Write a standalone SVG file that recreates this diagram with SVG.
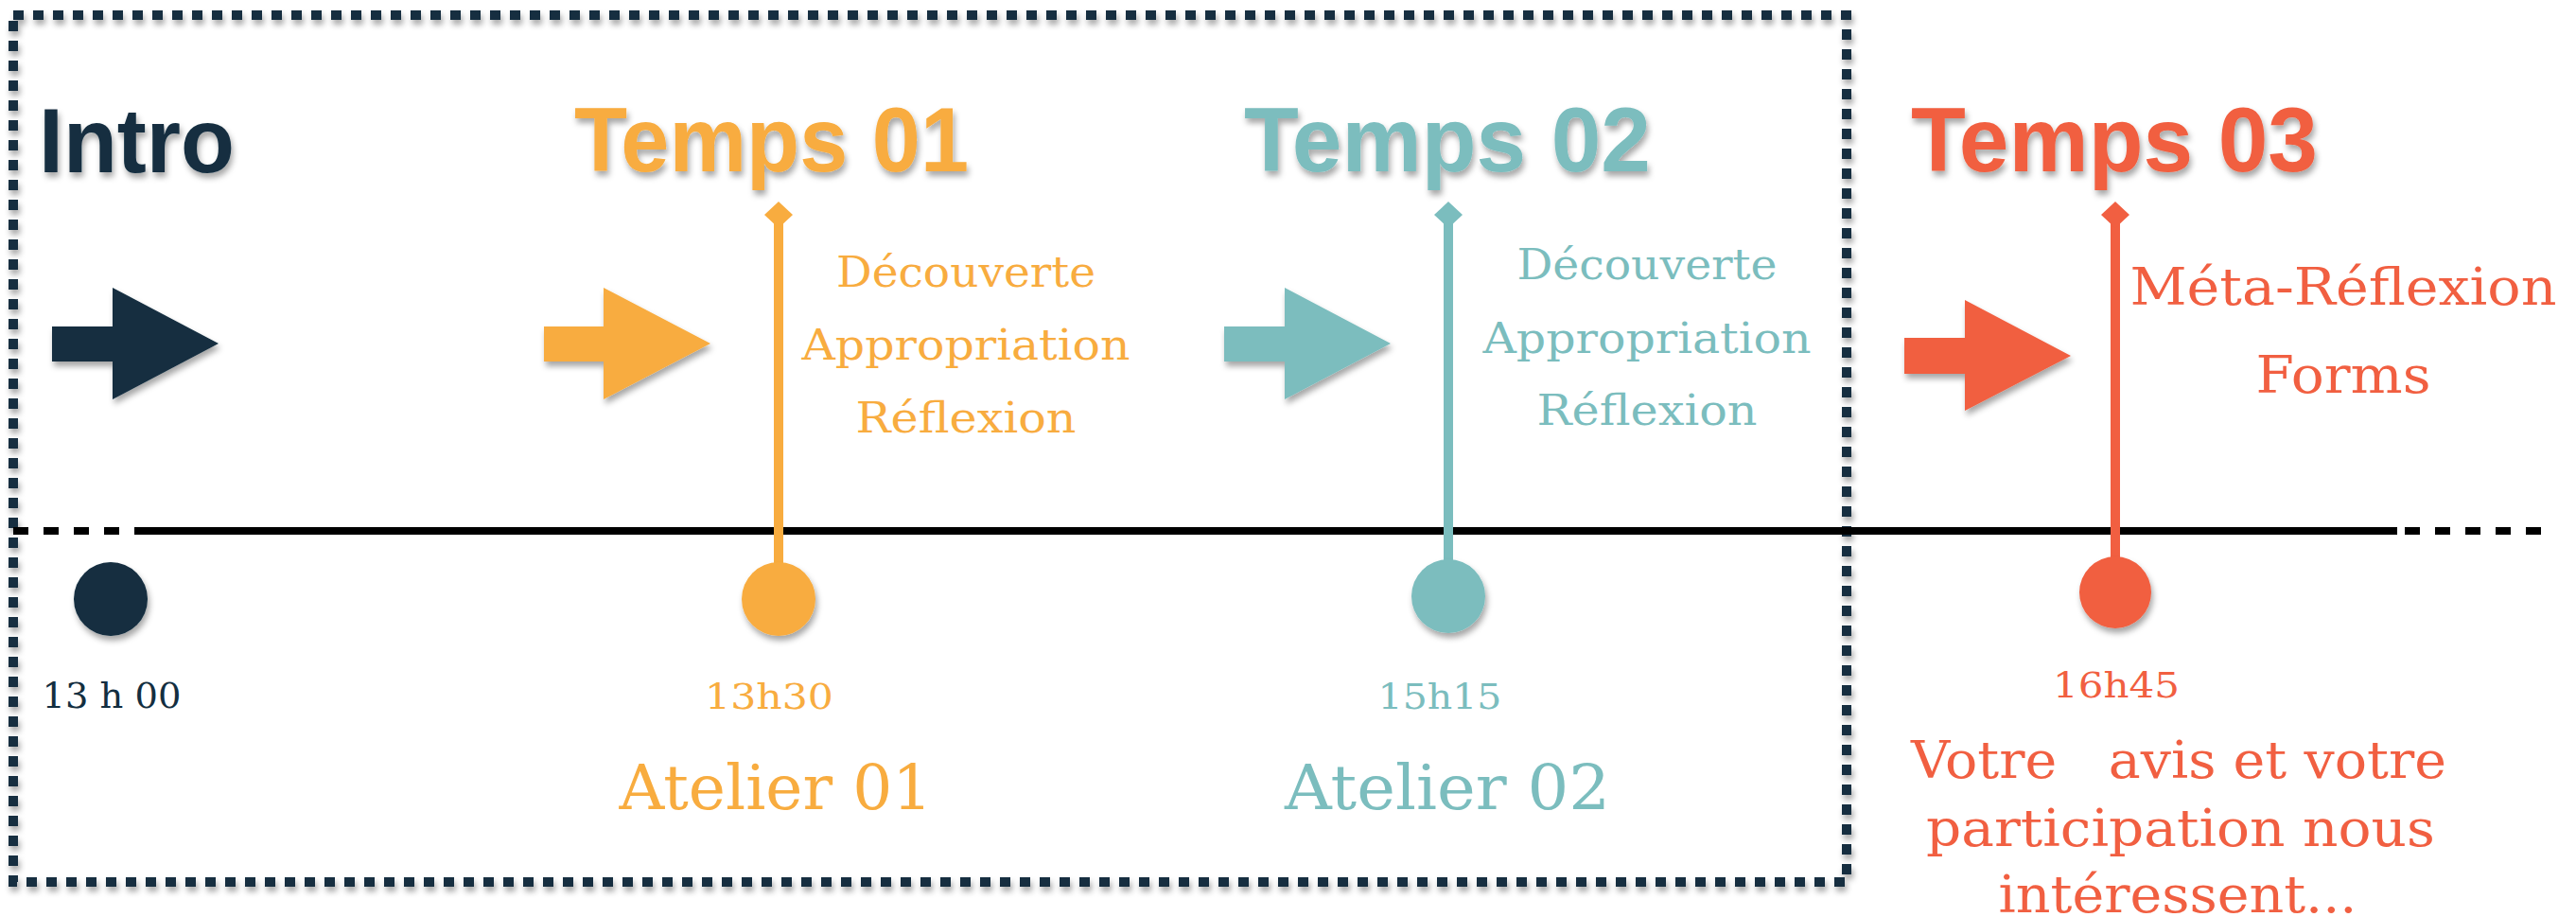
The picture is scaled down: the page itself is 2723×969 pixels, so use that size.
<svg xmlns="http://www.w3.org/2000/svg" width="2723" height="969" viewBox="0 0 2723 969">
<defs>
<filter id="sh" x="-20%" y="-20%" width="140%" height="160%">
<feDropShadow dx="2" dy="5" stdDeviation="3" flood-color="#000" flood-opacity="0.35"/>
</filter>
<style>
.h{font-family:"Liberation Sans",Arial,sans-serif;font-weight:bold;font-size:96px;filter:url(#sh)}
.t{font-family:"DejaVu Serif","Liberation Serif",serif;text-anchor:middle}
.navy{fill:#132e40}
.or{fill:#f8ac3f}
.te{fill:#7bbdbe}
.re{fill:#f15f41}
.ors{stroke:#f8ac3f}
.tes{stroke:#7bbdbe}
.res{stroke:#f15f41}
.stem{stroke-width:10;fill:none}
.sh{filter:url(#sh)}
</style>
</defs>
<rect width="2723" height="969" fill="#fff"/>
<g id="frame" class="sh">
<rect x="14" y="16" width="1938" height="916" fill="none" stroke="#132e40" stroke-width="10" stroke-dasharray="11 10"/>
</g>
<g id="connectors">
<line x1="142" y1="561" x2="2534" y2="561" stroke="#000" stroke-width="8"/>
<line x1="14" y1="561" x2="130" y2="561" stroke="#000" stroke-width="8" stroke-dasharray="16 16"/>
<line x1="2542" y1="561" x2="2690" y2="561" stroke="#000" stroke-width="8" stroke-dasharray="16 16"/>
<line class="stem ors" x1="823" y1="230" x2="823" y2="600"/>
<line class="stem tes" x1="1531" y1="230" x2="1531" y2="596"/>
<line class="stem res" x1="2236" y1="230" x2="2236" y2="592"/>
</g>
<g id="intro">
<text class="h navy" x="41" y="182" textLength="207" lengthAdjust="spacingAndGlyphs">Intro</text>
<polygon class="navy sh" points="55,345 119,345 119,304 231,363 119,422 119,382 55,382"/>
<circle class="navy sh" cx="117" cy="633" r="39"/>
<text class="t navy" x="118" y="748" font-size="37" textLength="147" lengthAdjust="spacingAndGlyphs">13 h 00</text>
</g>
<g id="temps01">
<text class="h or" x="607" y="181" textLength="417" lengthAdjust="spacingAndGlyphs">Temps 01</text>
<polygon class="or sh" points="575,345 638,345 638,304 751,363 638,422 638,382 575,382"/>
<polygon class="or" points="823,213 838,227 823,241 808,227"/>
<circle class="or sh" cx="823" cy="633" r="39"/>
<text class="t or" x="1021" y="303" font-size="45" textLength="274" lengthAdjust="spacingAndGlyphs">Découverte</text>
<text class="t or" x="1021" y="380" font-size="45" textLength="347" lengthAdjust="spacingAndGlyphs">Appropriation</text>
<text class="t or" x="1021" y="457" font-size="45" textLength="233" lengthAdjust="spacingAndGlyphs">Réflexion</text>
<text class="t or" x="813" y="749" font-size="37" textLength="136" lengthAdjust="spacingAndGlyphs">13h30</text>
<text class="t or" x="820" y="855" font-size="66" textLength="331" lengthAdjust="spacingAndGlyphs">Atelier 01</text>
</g>
<g id="temps02">
<text class="h te" x="1315" y="181" textLength="430" lengthAdjust="spacingAndGlyphs">Temps 02</text>
<polygon class="te sh" points="1294,345 1358,345 1358,304 1470,363 1358,422 1358,382 1294,382"/>
<polygon class="te" points="1531,213 1546,227 1531,241 1516,227"/>
<circle class="te sh" cx="1531" cy="630" r="39"/>
<text class="t te" x="1741" y="295" font-size="45" textLength="275" lengthAdjust="spacingAndGlyphs">Découverte</text>
<text class="t te" x="1741" y="373" font-size="45" textLength="347" lengthAdjust="spacingAndGlyphs">Appropriation</text>
<text class="t te" x="1741" y="449" font-size="45" textLength="233" lengthAdjust="spacingAndGlyphs">Réflexion</text>
<text class="t te" x="1522" y="749" font-size="37" textLength="131" lengthAdjust="spacingAndGlyphs">15h15</text>
<text class="t te" x="1530" y="855" font-size="66" textLength="344" lengthAdjust="spacingAndGlyphs">Atelier 02</text>
</g>
<g id="temps03">
<text class="h re" x="2020" y="181" textLength="430" lengthAdjust="spacingAndGlyphs">Temps 03</text>
<polygon class="re sh" points="2013,357 2077,357 2077,317 2189,376 2077,434 2077,395 2013,395"/>
<polygon class="re" points="2236,213 2251,227 2236,241 2221,227"/>
<circle class="re sh" cx="2236" cy="626" r="38"/>
<text class="t re" x="2477" y="322" font-size="55" textLength="451" lengthAdjust="spacingAndGlyphs">Méta-Réflexion</text>
<text class="t re" x="2477" y="415" font-size="55" textLength="185" lengthAdjust="spacingAndGlyphs">Forms</text>
<text class="t re" x="2237" y="737" font-size="37" textLength="134" lengthAdjust="spacingAndGlyphs">16h45</text>
<text class="t re" x="2303" y="822" font-size="55" textLength="566" lengthAdjust="spacingAndGlyphs" style="white-space:pre">Votre   avis et votre</text>
<text class="t re" x="2305" y="894" font-size="55" textLength="538" lengthAdjust="spacingAndGlyphs">participation nous</text>
<text class="t re" x="2302" y="964" font-size="55" textLength="379" lengthAdjust="spacingAndGlyphs">intéressent...</text>
</g>
</svg>
